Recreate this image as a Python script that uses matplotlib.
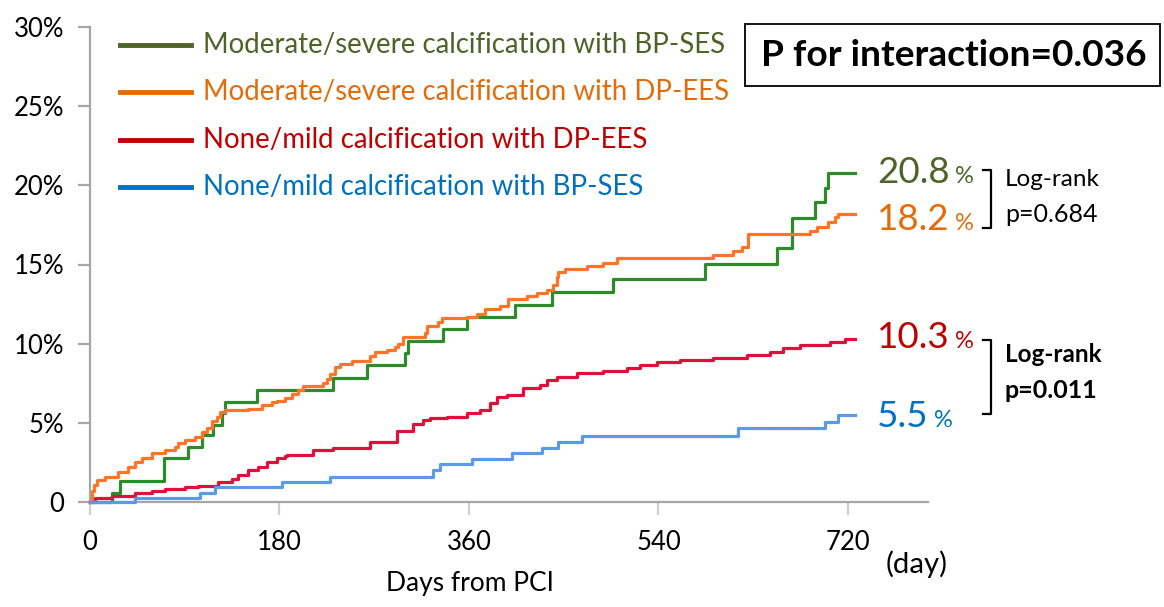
import matplotlib
matplotlib.use("Agg")
import matplotlib.pyplot as plt
from matplotlib.lines import Line2D
from matplotlib.patches import Rectangle

plt.rcParams['font.family'] = ['Lato', 'DejaVu Sans']

# ---------------- data ----------------
x_ticks = [0, 180, 360, 540, 720]
x_tick_labels = ["0", "180", "360", "540", "720"]
y_ticks = [0, 5, 10, 15, 20, 25, 30]
y_tick_labels = ["0", "5%", "10%", "15%", "20%", "25%", "30%"]

series_names = [
    "Moderate/severe calcification with BP-SES",
    "Moderate/severe calcification with DP-EES",
    "None/mild calcification with DP-EES",
    "None/mild calcification with BP-SES",
]

# Moderate/severe, BP-SES (green)
ms_bp_days = [0, 20.9, 28.5, 70.3, 93, 106, 117, 125, 128, 159, 231, 263, 299, 302,
              335, 358, 404, 439, 497, 584, 653, 667, 689, 698, 701, 727]
ms_bp_pct = [0, 0.57, 1.33, 2.78, 3.47, 4.23, 4.86, 5.62, 6.32, 7.07, 7.83, 8.65, 9.41, 10.17,
             10.93, 11.68, 12.44, 13.26, 14.08, 15.03, 16.04, 17.94, 18.95, 19.83, 20.8, 20.8]

# Moderate/severe, DP-EES (orange)
ms_dp_days = [0, 2, 4, 6.4, 14.2, 26.6, 36.1, 42.7, 49.4, 58.9, 71.2, 80.7, 83.6, 90.2, 99.7,
              106.4, 111.1, 115.9, 120.6, 123.5, 128.2, 150, 163.4, 172.9, 177.3, 185.2,
              191.6, 197.9, 202.6, 221.6, 224.8, 228, 232.7, 237.5, 248.6, 266, 270.7, 281.8,
              289.7, 292.9, 297.6, 318.2, 319.8, 330.8, 334.1, 357.8, 367.3, 375.2, 389.5,
              397.3, 414.8, 424.3, 433.8, 440.1, 443.3, 444.8, 451.2, 471.8, 487.6, 500.3,
              591.8, 610.8, 619.3, 625, 683.9, 690.6, 701, 707.7, 710.5, 727]
ms_dp_pct = [0, 0.7, 1.1, 1.4, 1.6, 1.9, 2.2, 2.5, 2.8, 3.1, 3.3, 3.5, 3.7, 3.9, 4.1,
             4.4, 4.7, 5.1, 5.4, 5.7, 5.8, 5.9, 6.1, 6.3, 6.4, 6.6,
             6.8, 7.1, 7.3, 7.5, 7.8, 8.1, 8.5, 8.7, 8.9, 9.2, 9.5, 9.6,
             9.8, 10.0, 10.4, 10.7, 11.1, 11.4, 11.6, 11.7, 11.9, 12.2, 12.4,
             12.8, 13.0, 13.2, 13.4, 13.7, 14.2, 14.5, 14.7, 14.9, 15.1, 15.4,
             15.6, 15.85, 16.1, 16.9, 17.1, 17.4, 17.7, 18.0, 18.2, 18.2]

# None/mild, DP-EES (red)
nm_dp_days = [0, 4.7, 20.6, 42.7, 58.6, 71.2, 90.2, 102.9, 121.9, 134.6, 140.9, 150.4,
              159.9, 167.8, 177.3, 185.2, 187.1, 211.8, 230.8, 266, 291.6, 306.8, 316.3,
              323, 339.1, 358.1, 370.5, 380, 386.6, 396.1, 411.3, 427.4, 434.1, 443.6,
              462.6, 487.3, 510.1, 522.4, 538.6, 560.4, 591.8, 624.1, 645.9, 658.3,
              674.4, 702.9, 717.2, 726.7]
nm_dp_pct = [0, 0.25, 0.4, 0.55, 0.7, 0.8, 0.95, 1.0, 1.25, 1.45, 1.7, 2.0,
             2.2, 2.5, 2.8, 2.9, 3.0, 3.3, 3.4, 3.8, 4.5, 4.9, 5.2,
             5.3, 5.4, 5.6, 5.8, 6.25, 6.65, 6.75, 7.2, 7.4, 7.7, 7.9,
             8.15, 8.3, 8.45, 8.65, 8.85, 8.97, 9.1, 9.3, 9.5, 9.7,
             9.9, 10.1, 10.3, 10.3]

# None/mild, BP-SES (blue)
nm_bp_days = [0, 42.7, 104.5, 118.7, 182.4, 228, 325.8, 332.5, 362.9, 400.9, 429.3,
              444.5, 467.3, 615.5, 698.2, 710.5, 727]
nm_bp_pct = [0, 0.25, 0.6, 0.93, 1.28, 1.6, 2.0, 2.4, 2.7, 3.1, 3.4,
             3.8, 4.2, 4.7, 5.05, 5.5, 5.5]

final_labels = ["20.8", "18.2", "10.3", "5.5"]
logrank_top = ["Log-rank", "p=0.684"]
logrank_bottom = ["Log-rank", "p=0.011"]
interaction_text = "P for interaction=0.036"

curve_colors = ["#2E8B2A", "#FF7426", "#E0103A", "#5B9BE6"]
text_colors = ["#4F6228", "#E36C09", "#C00000", "#0070C0"]

# ---------------- figure ----------------
W, H = 1164, 607
fig = plt.figure(figsize=(W / 100, H / 100), dpi=100)
renderer = fig.canvas.get_renderer()


def fx(px):
    return px / W


def fy(py):
    return 1 - py / H


def fit(t, target_w):
    """scale the font size of text t so its width is target_w pixels"""
    w = t.get_window_extent(renderer=renderer).width
    t.set_fontsize(t.get_fontsize() * target_w / w)
    return t


ax = fig.add_axes([fx(90), fy(502), fx(928) - fx(90), fy(27) - fy(502)])
ax.set_xlim(0, 796)
ax.set_ylim(0, 30)

series = [(ms_bp_days, ms_bp_pct), (ms_dp_days, ms_dp_pct),
          (nm_dp_days, nm_dp_pct), (nm_bp_days, nm_bp_pct)]
order = [3, 2, 0, 1]
for i in order:
    d, p = series[i]
    ax.step(d, p, where='post', color=curve_colors[i], lw=2.3, zorder=3 + i,
            clip_on=False)

for s in ["top", "right"]:
    ax.spines[s].set_visible(False)
for s in ["left", "bottom"]:
    ax.spines[s].set_color("#A6A6A6")
    ax.spines[s].set_linewidth(1.6)

ax.set_xticks(x_ticks)
ax.set_xticklabels(x_tick_labels)
ax.set_yticks(y_ticks)
ax.set_yticklabels(y_tick_labels)
ax.tick_params(axis='y', direction='out', length=8.6, width=1.6, color="#A6A6A6",
               labelsize=18.5, pad=10, labelcolor="black")
ax.tick_params(axis='x', direction='out', length=9, width=1.6, color="#D0D0D0",
               labelsize=18.5, pad=11, labelcolor="black")

fit(fig.text(fx(470), fy(583), "Days from PCI", fontsize=18, ha='center', va='center'), 168)
fit(fig.text(fx(917), fy(564), "(day)", fontsize=18, ha='center', va='center'), 62)

# legend (manual)
leg_y = [45, 92, 140, 187]
leg_size = None
for i in range(4):
    fig.add_artist(Line2D([fx(120), fx(191)], [fy(leg_y[i]), fy(leg_y[i])],
                          color=text_colors[i], lw=3.5))
    t = fig.text(fx(203), fy(leg_y[i]), series_names[i], fontsize=18,
                 color=text_colors[i], ha='left', va='center')
    if i == 0:
        fit(t, 520)
        leg_size = t.get_fontsize()
    else:
        t.set_fontsize(leg_size)

# interaction box
fig.add_artist(Rectangle((fx(745), fy(86)), fx(1160) - fx(745), fy(24) - fy(86),
                         transform=fig.transFigure, fill=False, ec='black', lw=1.3))
t = fig.text(fx(954), fy(56), interaction_text, fontsize=22, fontweight='bold',
             ha='center', va='center')
fit(t, 385)

# final values
val_y = [170, 217, 335, 414]
pct_x = [955, 955, 955, 934]
for i in range(4):
    base = fy(val_y[i] + 13)
    fig.text(fx(877), base, final_labels[i], fontsize=26.5,
             color=text_colors[i], ha='left', va='baseline')
    fig.text(fx(pct_x[i]), base, "%", fontsize=17, color=text_colors[i],
             ha='left', va='baseline')


# brackets
def bracket(y0, y1):
    x = 991
    fig.add_artist(Line2D([fx(983), fx(x), fx(x), fx(983)],
                          [fy(y0), fy(y0), fy(y1), fy(y1)], color='black', lw=1.6))


bracket(170, 228)
bracket(340, 414)

fig.text(fx(1005), fy(180), logrank_top[0], fontsize=17.5, ha='left', va='center')
fig.text(fx(1005), fy(215), logrank_top[1], fontsize=18, ha='left', va='center')
fig.text(fx(1005), fy(355), logrank_bottom[0], fontsize=17.5, fontweight='bold',
         ha='left', va='center')
fig.text(fx(1005), fy(390), logrank_bottom[1], fontsize=18, fontweight='bold',
         ha='left', va='center')

fig.savefig("out.png", dpi=100)
